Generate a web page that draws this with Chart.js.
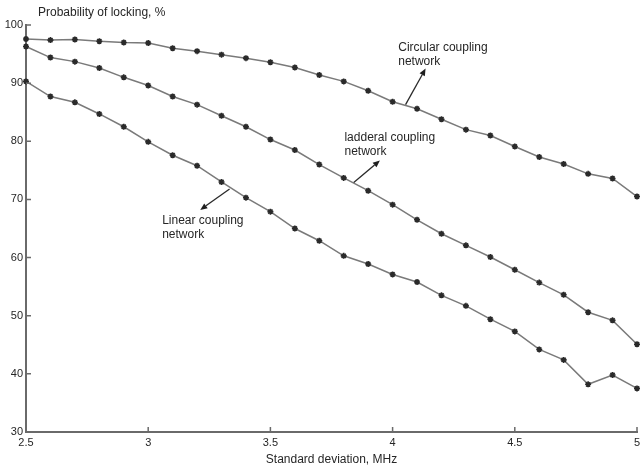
<!DOCTYPE html>
<html>
<head>
<meta charset="utf-8">
<script src="https://cdn.jsdelivr.net/npm/chart.js@4/dist/chart.umd.min.js"></script>
<style>
  html, body { margin: 0; padding: 0; background: #fff; }
  #wrap { width: 640px; height: 475px; }
</style>
</head>
<body>
<div id="wrap"><canvas id="c" width="640" height="475"></canvas></div>
<script>
// Standard deviation of the oscillator frequencies, MHz
const deviation = [2.5, 2.6, 2.7, 2.8, 2.9, 3.0, 3.1, 3.2, 3.3, 3.4, 3.5, 3.6, 3.7,
                   3.8, 3.9, 4.0, 4.1, 4.2, 4.3, 4.4, 4.5, 4.6, 4.7, 4.8, 4.9, 5.0];

// Probability of locking, % for each coupling topology
const circular = [97.6, 97.4, 97.5, 97.2, 97.0, 96.9, 96.0, 95.5, 94.9, 94.3, 93.6, 92.7, 91.4,
                  90.3, 88.7, 86.8, 85.6, 83.8, 82.0, 81.0, 79.1, 77.3, 76.1, 74.4, 73.6, 70.5];
const ladderal = [96.3, 94.4, 93.7, 92.6, 91.0, 89.6, 87.7, 86.3, 84.4, 82.5, 80.3, 78.5, 76.0,
                  73.7, 71.5, 69.1, 66.5, 64.1, 62.1, 60.1, 57.9, 55.7, 53.6, 50.6, 49.2, 45.1];
const linear   = [90.3, 87.7, 86.7, 84.7, 82.5, 79.9, 77.6, 75.8, 73.0, 70.3, 67.9, 65.0, 62.9,
                  60.3, 58.9, 57.1, 55.8, 53.5, 51.7, 49.4, 47.3, 44.2, 42.4, 38.2, 39.8, 37.5];

// Axis tick values
const xTicks = [2.5, 3, 3.5, 4, 4.5, 5];
const yTicks = [30, 40, 50, 60, 70, 80, 90, 100];

const FONT = 'Liberation Sans, Arial, sans-serif';
const TEXT = '#262626';
const AXIS = '#6a6a6a';
const LINE = '#7a7a7a';
const MARK = '#2a2a2a';

// Text callouts with arrows, placed in data coordinates
const callouts = [
  { lines: ['Circular coupling', 'network'], tx: 4.023, ty: 96.1, from: [4.053, 86.3], to: [4.135, 92.5] },
  { lines: ['ladderal coupling', 'network'], tx: 3.803, ty: 80.6, from: [3.841, 72.9], to: [3.948, 76.7] },
  { lines: ['Linear coupling', 'network'],   tx: 3.057, ty: 66.3, from: [3.333, 71.8], to: [3.213, 68.2] }
];

const toPoints = arr => deviation.map((d, i) => ({ x: d, y: arr[i] }));

const series = (label, arr) => ({
  label,
  data: toPoints(arr),
  borderColor: LINE,
  borderWidth: 1.5,
  pointStyle: 'star',
  pointRadius: 3,
  pointBorderWidth: 1.6,
  pointBorderColor: MARK,
  pointBackgroundColor: MARK,
  tension: 0,
  clip: false
});

const decorations = {
  id: 'decorations',
  afterDraw(chart) {
    const { ctx, chartArea: a, scales: { x, y } } = chart;
    ctx.save();

    // inward tick marks
    ctx.strokeStyle = AXIS;
    ctx.lineWidth = 1.5;
    ctx.beginPath();
    yTicks.forEach(v => {
      const py = y.getPixelForValue(v);
      ctx.moveTo(a.left, py); ctx.lineTo(a.left + 5, py);
    });
    xTicks.forEach(v => {
      const px = x.getPixelForValue(v);
      ctx.moveTo(px, a.bottom); ctx.lineTo(px, a.bottom - 5);
    });
    ctx.stroke();

    // vertical axis title, written horizontally above the axis
    ctx.fillStyle = TEXT;
    ctx.font = '12px ' + FONT;
    ctx.textAlign = 'left';
    ctx.textBaseline = 'middle';
    ctx.fillText('Probability of locking, %', 38, 13);

    // callouts
    callouts.forEach(c => {
      const tx = x.getPixelForValue(c.tx);
      const ty = y.getPixelForValue(c.ty);
      c.lines.forEach((s, i) => ctx.fillText(s, tx, ty + i * 14));

      const x0 = x.getPixelForValue(c.from[0]), y0 = y.getPixelForValue(c.from[1]);
      const x1 = x.getPixelForValue(c.to[0]),   y1 = y.getPixelForValue(c.to[1]);
      const ang = Math.atan2(y1 - y0, x1 - x0);
      const hl = 7, hw = 3;
      const bx = x1 - hl * Math.cos(ang), by = y1 - hl * Math.sin(ang);
      ctx.strokeStyle = '#2a2a2a';
      ctx.lineWidth = 1.3;
      ctx.beginPath();
      ctx.moveTo(x0, y0); ctx.lineTo(bx, by);
      ctx.stroke();
      ctx.fillStyle = '#1e1e1e';
      ctx.beginPath();
      ctx.moveTo(x1, y1);
      ctx.lineTo(bx + hw * Math.sin(ang), by - hw * Math.cos(ang));
      ctx.lineTo(bx - hw * Math.sin(ang), by + hw * Math.cos(ang));
      ctx.closePath();
      ctx.fill();
      ctx.fillStyle = TEXT;
    });

    ctx.restore();
  }
};

new Chart(document.getElementById('c'), {
  type: 'line',
  data: {
    datasets: [
      series('Circular coupling network', circular),
      series('ladderal coupling network', ladderal),
      series('Linear coupling network', linear)
    ]
  },
  options: {
    responsive: false,
    animation: false,
    layout: { autoPadding: false, padding: { left: 0, right: 3, top: 25, bottom: 0 } },
    plugins: { legend: { display: false }, tooltip: { enabled: false } },
    scales: {
      x: {
        type: 'linear',
        min: 2.5, max: 5,
        afterFit: s => { s.height = 43; s.paddingLeft = 0; s.paddingRight = 0; },
        afterBuildTicks: s => { s.ticks = xTicks.map(v => ({ value: v })); },
        grid: { display: false, drawTicks: false },
        border: { display: true, color: AXIS, width: 2 },
        ticks: {
          padding: 4, color: TEXT, font: { family: FONT, size: 11 }, maxRotation: 0,
          callback: v => String(v)
        },
        title: {
          display: true,
          text: 'Standard deviation, MHz',
          color: TEXT,
          font: { family: FONT, size: 12 },
          padding: { top: 0, bottom: 8 }
        }
      },
      y: {
        min: 30, max: 100,
        afterFit: s => { s.width = 26; s.paddingTop = 0; s.paddingBottom = 0; },
        afterBuildTicks: s => { s.ticks = yTicks.map(v => ({ value: v })); },
        grid: { display: false, drawTicks: false },
        border: { display: true, color: AXIS, width: 2 },
        ticks: { padding: 3, color: TEXT, font: { family: FONT, size: 11 }, callback: v => String(v) }
      }
    }
  },
  plugins: [decorations]
});
</script>
</body>
</html>
